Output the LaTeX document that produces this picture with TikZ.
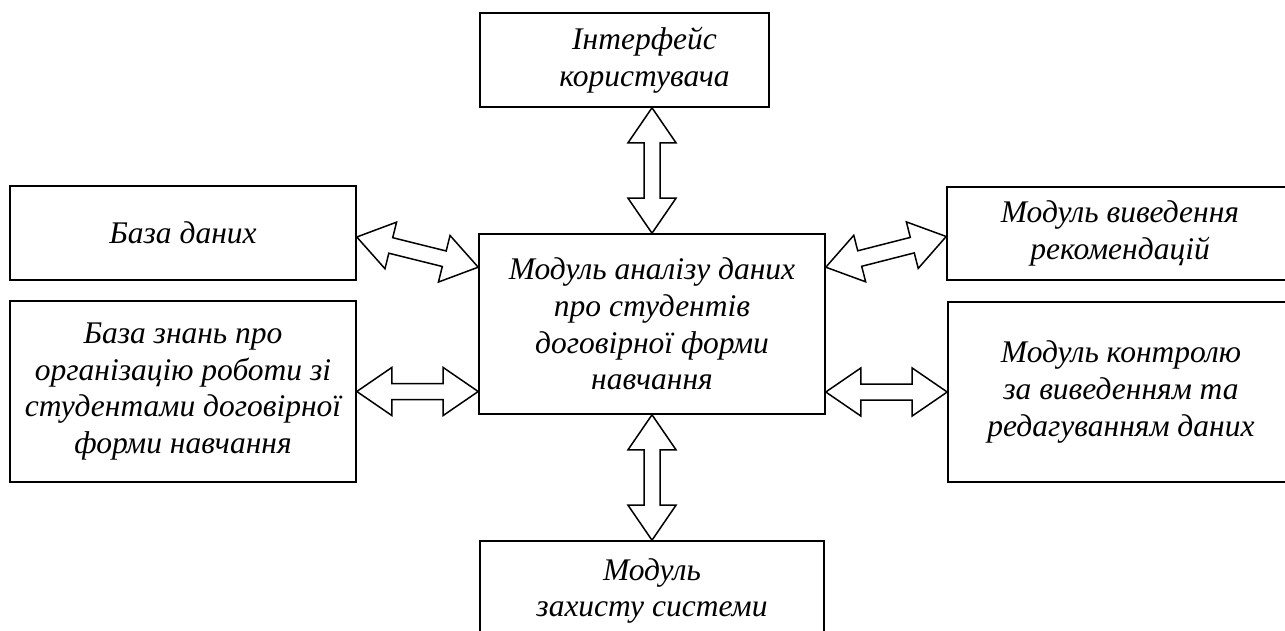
\documentclass[tikz,border=0pt]{standalone}
\usepackage{fontspec}
\setmainfont{Liberation Serif}
\usepackage{tikz}
\usetikzlibrary{calc}
\tikzset{
    boxnode/.style = {align=center, inner sep=0pt, text centered},
    mod_box/.style = {boxnode, rectangle, draw=black, line width=1.6pt, font=\fontsize{31.5}{36.7}\selectfont\itshape},
    flow_arrow/.style = {draw=black, fill=white, line width=1.5pt, line join=miter}
}
\newcommand{\dblarrow}[2]{%
    \draw[flow_arrow] (#1)
        -- ($(#1)!35pt!(#2)!24pt!90:(#2)$)
        -- ($(#1)!35pt!(#2)!8pt!90:(#2)$)
        -- ($(#2)!35pt!(#1)!8pt!-90:(#1)$)
        -- ($(#2)!35pt!(#1)!24pt!-90:(#1)$)
        -- (#2)
        -- ($(#2)!35pt!(#1)!24pt!90:(#1)$)
        -- ($(#2)!35pt!(#1)!8pt!90:(#1)$)
        -- ($(#1)!35pt!(#2)!8pt!-90:(#2)$)
        -- ($(#1)!35pt!(#2)!24pt!-90:(#2)$)
        -- cycle;}

\begin{document}
\begin{tikzpicture}[x=1pt, y=-1pt]
    \useasboundingbox (0,0) rectangle (1285,631);
    \clip (0,0) rectangle (1285,631);
    \node [mod_box, minimum width=346pt, minimum height=180pt] (core) at (652,324)
        {Модуль аналізу даних\\про студентів\\договірної форми\\навчання};
    \node [mod_box, minimum width=289pt, minimum height=94pt] (ui) at (624.5,60)
        {\hspace*{40pt}Інтерфейс\\\hspace*{40pt}користувача};
    \node [mod_box, minimum width=346pt, minimum height=94pt] (db) at (183,233)
        {База даних};
    \node [mod_box, minimum width=346pt, minimum height=181pt] (kb) at (183,391.5)
        {База знань про\\організацію роботи зі\\студентами договірної\\форми навчання};
    \node [mod_box, minimum width=346pt, minimum height=93pt] (rec) at (1120,233.5)
        {Модуль виведення\\рекомендацій};
    \node [mod_box, minimum width=346pt, minimum height=180pt] (ctl) at (1121,392)
        {Модуль контролю\\за виведенням та\\редагуванням даних};
    \node [mod_box, minimum width=344pt, minimum height=100pt] (prot) at (652,591)
        {Модуль\\захисту системи};

    \coordinate (db_tip) at ([yshift=-4pt]db.east);
    \coordinate (core_wl) at ([yshift=-34pt]core.north west);
    \coordinate (core_el) at ([yshift=-34pt]core.north east);
    \coordinate (rec_tip) at ([yshift=-3pt]rec.west);

    \dblarrow{ui.south -| core.north}{core.north}
    \dblarrow{db_tip}{core_wl}
    \dblarrow{kb.east}{kb.east -| core.west}
    \dblarrow{core_el}{rec_tip}
    \dblarrow{ctl.west -| core.east}{ctl.west}
    \dblarrow{core.south}{core.south |- prot.north}
\end{tikzpicture}
\end{document}
